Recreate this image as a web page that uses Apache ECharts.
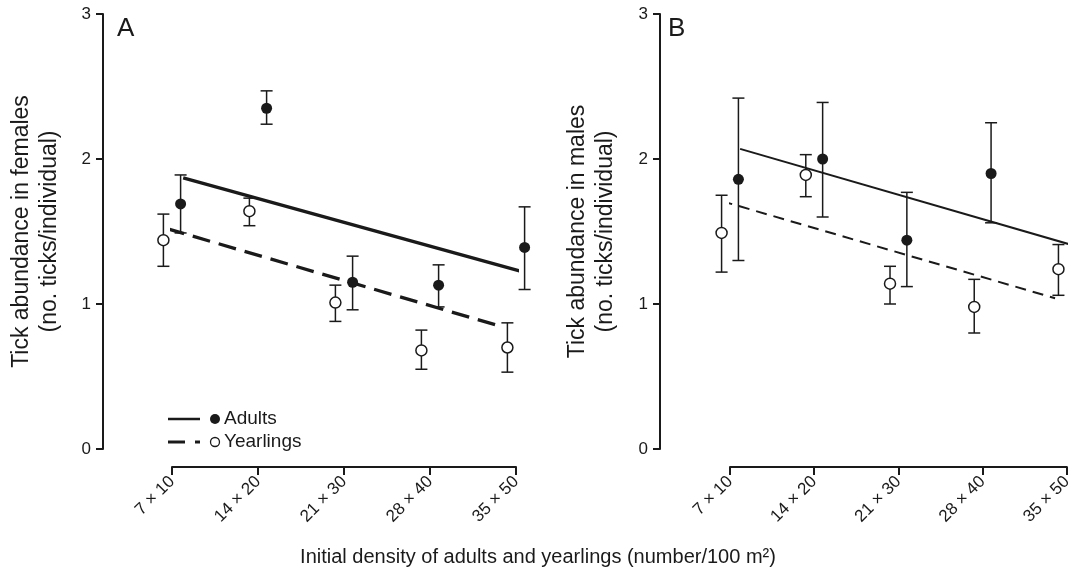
<!DOCTYPE html>
<html>
<head>
<meta charset="utf-8">
<script src="https://cdn.jsdelivr.net/npm/echarts@6/dist/echarts.min.js"></script>
<style>
  html, body { margin: 0; padding: 0; background: #fff; }
  #chart { width: 1075px; height: 576px; }
</style>
</head>
<body>
<div id="chart"></div>
<script>
const categories = ['7 \u00d7 10', '14 \u00d7 20', '21 \u00d7 30', '28 \u00d7 40', '35 \u00d7 50'];

// panel A - females
const femAdultMean = [1.69, 2.35, 1.15, 1.13, 1.39];
const femAdultLow = [1.49, 2.24, 0.96, 0.98, 1.10];
const femAdultHigh = [1.89, 2.47, 1.33, 1.27, 1.67];
const femYearMean = [1.44, 1.64, 1.01, 0.68, 0.70];
const femYearLow = [1.26, 1.54, 0.88, 0.55, 0.53];
const femYearHigh = [1.62, 1.73, 1.13, 0.82, 0.87];
const femAdultFit = [[0.13, 1.87], [4.15, 1.21]];
const femYearFit = [[-0.06, 1.52], [3.77, 0.855]];

// panel B - males (last adult point is cut off in the source)
const maleAdultMean = [1.86, 2.00, 1.44, 1.90];
const maleAdultLow = [1.30, 1.60, 1.12, 1.56];
const maleAdultHigh = [2.42, 2.39, 1.77, 2.25];
const maleYearMean = [1.49, 1.89, 1.14, 0.98, 1.24];
const maleYearLow = [1.22, 1.74, 1.00, 0.80, 1.06];
const maleYearHigh = [1.75, 2.03, 1.26, 1.17, 1.41];
const maleAdultFit = [[0.12, 2.07], [4.1, 1.40]];
const maleYearFit = [[-0.1, 1.71], [3.86, 1.04]];

const ink = '#1a1a1a';
const font = 'Liberation Sans, Arial, Helvetica, sans-serif';
const dodge = 0.1;

const points = (mean, shift) => mean.map((v, i) => [i + shift, v]);
const bars = (low, high, shift) => low.map((v, i) => [i + shift, v, high[i]]);

function errorBar(params, api) {
  const x = api.value(0);
  const lo = api.coord([x, api.value(1)]);
  const hi = api.coord([x, api.value(2)]);
  const style = { stroke: ink, lineWidth: 1.5 };
  const cap = 6;
  return {
    type: 'group',
    children: [
      { type: 'line', shape: { x1: lo[0], y1: lo[1], x2: hi[0], y2: hi[1] }, style },
      { type: 'line', shape: { x1: hi[0] - cap, y1: hi[1], x2: hi[0] + cap, y2: hi[1] }, style },
      { type: 'line', shape: { x1: lo[0] - cap, y1: lo[1], x2: lo[0] + cap, y2: lo[1] }, style }
    ]
  };
}

function xAxisFor(idx) {
  return {
    type: 'value', gridIndex: idx, min: 0, max: 4, interval: 1, offset: 18, position: 'bottom',
    splitLine: { show: false },
    axisLine: { onZero: false, lineStyle: { color: ink, width: 2 } },
    axisTick: { length: 8, lineStyle: { color: ink, width: 2 } },
    axisLabel: {
      rotate: 45, margin: 12, fontSize: 17, color: ink, fontFamily: font,
      formatter: v => categories[v]
    }
  };
}

function yAxisFor(idx, name, offset, gap) {
  return {
    type: 'value', gridIndex: idx, min: 0, max: 3, interval: 1, offset: offset, position: 'left',
    name: name, nameLocation: 'middle', nameGap: gap,
    nameTextStyle: { fontSize: 23, lineHeight: 28, color: ink, fontFamily: font },
    splitLine: { show: false },
    axisLine: { show: true, onZero: false, lineStyle: { color: ink, width: 2 } },
    axisTick: { show: true, length: 7, lineStyle: { color: ink, width: 2 } },
    axisLabel: { margin: 12, fontSize: 17, color: ink, fontFamily: font }
  };
}

function panelSeries(idx, adultMean, adultLow, adultHigh, yearMean, yearLow, yearHigh, adultFit, yearFit, thick, dash) {
  return [
    {
      type: 'line', xAxisIndex: idx, yAxisIndex: idx, data: adultFit, clip: false,
      showSymbol: false, silent: true,
      lineStyle: { color: ink, width: thick }
    },
    {
      type: 'line', xAxisIndex: idx, yAxisIndex: idx, data: yearFit, clip: false,
      showSymbol: false, silent: true,
      lineStyle: { color: ink, width: thick, type: dash }
    },
    {
      type: 'custom', xAxisIndex: idx, yAxisIndex: idx, clip: false,
      renderItem: errorBar, encode: { x: 0, y: [1, 2] },
      data: bars(adultLow, adultHigh, dodge), z: 3
    },
    {
      type: 'custom', xAxisIndex: idx, yAxisIndex: idx, clip: false,
      renderItem: errorBar, encode: { x: 0, y: [1, 2] },
      data: bars(yearLow, yearHigh, -dodge), z: 3
    },
    {
      type: 'scatter', xAxisIndex: idx, yAxisIndex: idx, clip: false,
      symbol: 'circle', symbolSize: 11, z: 5,
      itemStyle: { color: ink, opacity: 1 },
      data: points(adultMean, dodge)
    },
    {
      type: 'scatter', xAxisIndex: idx, yAxisIndex: idx, clip: false,
      symbol: 'circle', symbolSize: 11, z: 5,
      itemStyle: { color: '#fff', borderColor: ink, borderWidth: 1.5, opacity: 1 },
      data: points(yearMean, -dodge)
    }
  ];
}

const chart = echarts.init(document.getElementById('chart'), null, { renderer: 'canvas' });
chart.setOption({
  animation: false,
  backgroundColor: '#fff',
  textStyle: { fontFamily: font },
  grid: [
    { left: 172, right: 559, top: 14, bottom: 127 },
    { left: 730, right: 1, top: 14, bottom: 127 }
  ],
  xAxis: [xAxisFor(0), xAxisFor(1)],
  yAxis: [
    yAxisFor(0, 'Tick abundance in females\n(no. ticks/individual)', 69, 39),
    yAxisFor(1, 'Tick abundance in males\n(no. ticks/individual)', 70, 40)
  ],
  series: [
    ...panelSeries(0, femAdultMean, femAdultLow, femAdultHigh, femYearMean, femYearLow, femYearHigh,
      femAdultFit, femYearFit, 3.3, [18, 9]),
    ...panelSeries(1, maleAdultMean, maleAdultLow, maleAdultHigh, maleYearMean, maleYearLow, maleYearHigh,
      maleAdultFit, maleYearFit, 2, [11, 7])
  ],
  graphic: [
    { type: 'text', left: 117, top: 16, style: { text: 'A', fontSize: 26, fill: ink, fontFamily: font } },
    { type: 'text', left: 668, top: 16, style: { text: 'B', fontSize: 26, fill: ink, fontFamily: font } },
    {
      type: 'text', x: 538, y: 557,
      style: {
        text: 'Initial density of adults and yearlings (number/100 m\u00b2)',
        fontSize: 20, fill: ink, fontFamily: font, align: 'center', verticalAlign: 'middle'
      }
    },
    // legend
    { type: 'line', shape: { x1: 168, y1: 419, x2: 200, y2: 419 }, style: { stroke: ink, lineWidth: 2.5 } },
    { type: 'circle', shape: { cx: 215, cy: 419, r: 5 }, style: { fill: ink } },
    { type: 'text', x: 224, y: 419, style: { text: 'Adults', fontSize: 19, fill: ink, fontFamily: font, verticalAlign: 'middle' } },
    { type: 'line', shape: { x1: 168, y1: 442, x2: 185, y2: 442 }, style: { stroke: ink, lineWidth: 3 } },
    { type: 'line', shape: { x1: 195, y1: 442, x2: 200, y2: 442 }, style: { stroke: ink, lineWidth: 3 } },
    { type: 'circle', shape: { cx: 215, cy: 442, r: 4.5 }, style: { fill: '#fff', stroke: ink, lineWidth: 1.3 } },
    { type: 'text', x: 224, y: 442, style: { text: 'Yearlings', fontSize: 19, fill: ink, fontFamily: font, verticalAlign: 'middle' } }
  ]
});
</script>
</body>
</html>
